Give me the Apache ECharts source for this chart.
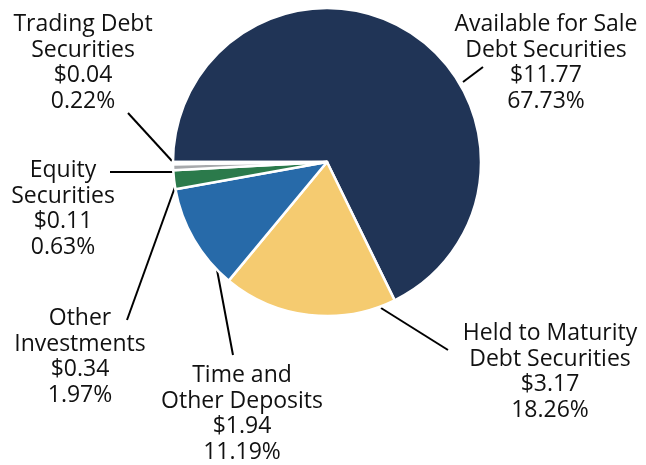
<!DOCTYPE html>
<html>
<head>
<meta charset="utf-8">
<script src="https://cdn.jsdelivr.net/npm/echarts@6/dist/echarts.min.js"></script>
<style>
  html, body { margin: 0; padding: 0; background: #fff; }
  #chart { width: 646px; height: 465px; }
</style>
</head>
<body>
<div id="chart"></div>
<script>
// categories and values (billions), clockwise from 9 o'clock
const names = [
  'Available for Sale\nDebt Securities',
  'Held to Maturity\nDebt Securities',
  'Time and\nOther Deposits',
  'Other\nInvestments',
  'Equity\nSecurities',
  'Trading Debt\nSecurities'
]
const amounts = [11.77, 3.17, 1.94, 0.34, 0.11, 0.04]
const percents = ['67.73%', '18.26%', '11.19%', '1.97%', '0.63%', '0.22%']
const colors = ['#203456', '#f5cb70', '#276aa9', '#2b7a4b', '#a7a9ac', '#d9dadc']

// label block placement (center x, top y) and leader line ends
const labelSpots = [
  { x: 546, y: 12, line: [[463, 82], [483, 67]] },
  { x: 550, y: 321, line: [[381, 308], [448, 350]] },
  { x: 242, y: 363, line: [[217, 270], [233, 355]] },
  { x: 80, y: 306, line: [[175, 187], [127, 320]] },
  { x: 63, y: 158, line: [[174, 172], [110, 172]] },
  { x: 83, y: 12, line: [[172, 161], [128, 113]] }
]

let chart = echarts.init(document.getElementById('chart'))
chart.setOption({
  animation: false,
  series: [
    {
      type: 'pie',
      center: [327, 162],
      radius: [0, 154],
      startAngle: 180,
      clockwise: true,
      minAngle: 0,
      avoidLabelOverlap: false,
      itemStyle: {
        borderColor: '#fff',
        borderWidth: 2.5,
      },
      label: {
        show: true,
        position: 'outside',
        color: '#111',
        fontFamily: 'Open Sans',
        fontSize: 23,
        lineHeight: 25.5,
        align: 'center',
        formatter: function (p) {
          return p.name + '\n$' + amounts[p.dataIndex].toFixed(2) + '\n' + percents[p.dataIndex]
        },
      },
      labelLine: {
        show: true,
        lineStyle: { color: '#000', width: 2 },
      },
      labelLayout: function (p) {
        let s = labelSpots[p.dataIndex]
        return {
          x: s.x,
          y: s.y,
          align: 'center',
          verticalAlign: 'top',
          labelLinePoints: [s.line[0], s.line[1], s.line[1]],
        }
      },
      data: names.map((n, i) => ({
        name: n,
        value: amounts[i],
        itemStyle: { color: colors[i] },
      })),
    },
  ],
})
</script>
</body>
</html>
